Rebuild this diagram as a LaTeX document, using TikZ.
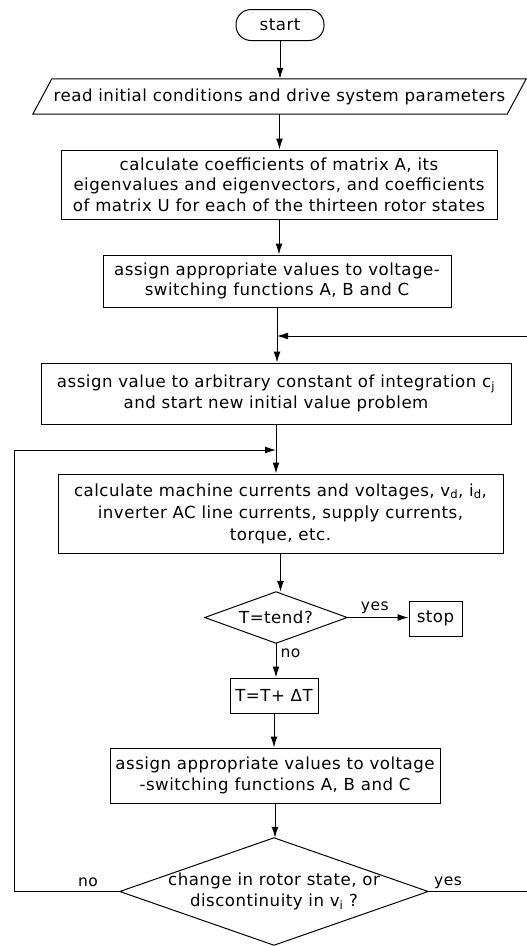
\documentclass[tikz,border=0pt]{standalone}
\usepackage{fontspec}
\setmainfont[LetterSpace=3]{DejaVu Sans}
\usetikzlibrary{arrows.meta,calc}
\tikzset{
  every node/.style={font=\fontsize{16.6}{20.5}\selectfont, align=center, inner sep=0pt},
  box/.style={draw, rectangle, line width=1pt},
  plain/.style={rectangle},
  line/.style={line width=1pt},
  arr/.style={line width=1pt, -{Latex[length=11pt,width=7pt]}},
  lbl/.style={font=\fontsize{15.5}{18}\selectfont},
}
\begin{document}
\begin{tikzpicture}[x=1pt,y=-1pt]
\path[use as bounding box, clip] (0,0) rectangle (527,946);
\fill[white] (0,0) rectangle (527,946);

% terminal
\node[box, rounded corners=15pt, minimum width=88pt, minimum height=31pt] (start) at (280,25) {start};

% input parallelogram: text node plus slanted outline
\node[plain, minimum width=474pt, minimum height=35pt] (read) at (279.5,96.5)
  {read initial conditions and drive system parameters};
\draw[line] ($(read.south west)+(-9.5,0)$) -- ($(read.south east)+(-9.5,0)$)
  -- ($(read.north east)+(9.5,0)$) -- ($(read.north west)+(9.5,0)$) -- cycle;

\node[box, minimum width=436pt, minimum height=69pt] (coef) at (279,184.5)
  {calculate coefficients of matrix A, its\\
   eigenvalues and eigenvectors, and coefficients\\
   of matrix U for each of the thirteen rotor states};

\node[box, minimum width=348pt, minimum height=52pt] (sw1) at (277,281)
  {assign appropriate values to voltage-\\switching functions A, B and C};

\node[box, minimum width=470pt, minimum height=61pt] (cst) at (276,393.5)
  {assign value to arbitrary constant of integration c\textsubscript{j}\\
   and start new initial value problem};

\node[box, minimum width=445pt, minimum height=79pt] (calc) at (280.5,513.5)
  {calculate machine currents and voltages, v\textsubscript{d}, i\textsubscript{d},\\[1.5pt]
   inverter AC line currents, supply currents,\\[1.5pt]
   torque, etc.};

% end-time test
\node[plain, minimum width=142pt, minimum height=51pt] (tend) at (276,617.5) {T=tend?};
\draw[line] (tend.north) -- (tend.east) -- (tend.south) -- (tend.west) -- cycle;

\node[box, minimum width=53pt, minimum height=35pt] (stop) at (435.5,618.5) {stop};

\node[box, minimum width=88pt, minimum height=35pt] (step) at (274,695.5) {T=T+ ΔT};

\node[box, minimum width=330pt, minimum height=55pt] (sw2) at (275,775.5)
  {assign appropriate values to voltage\\-switching functions A, B and C};

% state-change test
\node[plain, minimum width=308pt, minimum height=107pt] (chg) at (274,891.5)
  {change in rotor state, or\\discontinuity in v\textsubscript{i} ?};
\draw[line] (chg.north) -- (chg.east) -- (chg.south) -- (chg.west) -- cycle;

% main flow
\draw[arr] (start.south) -- (start.south |- read.north);
\draw[arr] (read.south) -- (read.south |- coef.north);
\draw[arr] (coef.south) -- (coef.south |- sw1.north);
\draw[arr] (sw1.south) -- (sw1.south |- cst.north);
\draw[arr] (cst.south) -- (cst.south |- calc.north);
\draw[arr] (calc.south) -- (calc.south |- tend.north);
\draw[arr] (tend.east) -- (tend.east -| stop.west) node[lbl, pos=0.45, above=3pt] {yes};
\draw[arr] (tend.south) -- (tend.south |- step.north) node[lbl, pos=0.3, right=4pt] {no};
\draw[arr] (step.south) -- (step.south |- sw2.north);
\draw[arr] (sw2.south) -- (sw2.south |- chg.north);

% junctions on the main line
\coordinate (jl) at (cst.south |- 0,450);
\coordinate (rc) at (535,336);
\coordinate (lc) at (14,450);

% loops back
\draw[arr] (chg.west) -- (chg.west -| lc) -- (lc) -- (jl);
\node[lbl, anchor=south] (nolbl) at (88,887) {no};
\draw[arr] (chg.east) -- (chg.east -| rc) -- (rc) -- (sw1.south |- rc);
\node[lbl, anchor=south] (yeslbl) at (448,889) {yes};
\end{tikzpicture}
\end{document}
